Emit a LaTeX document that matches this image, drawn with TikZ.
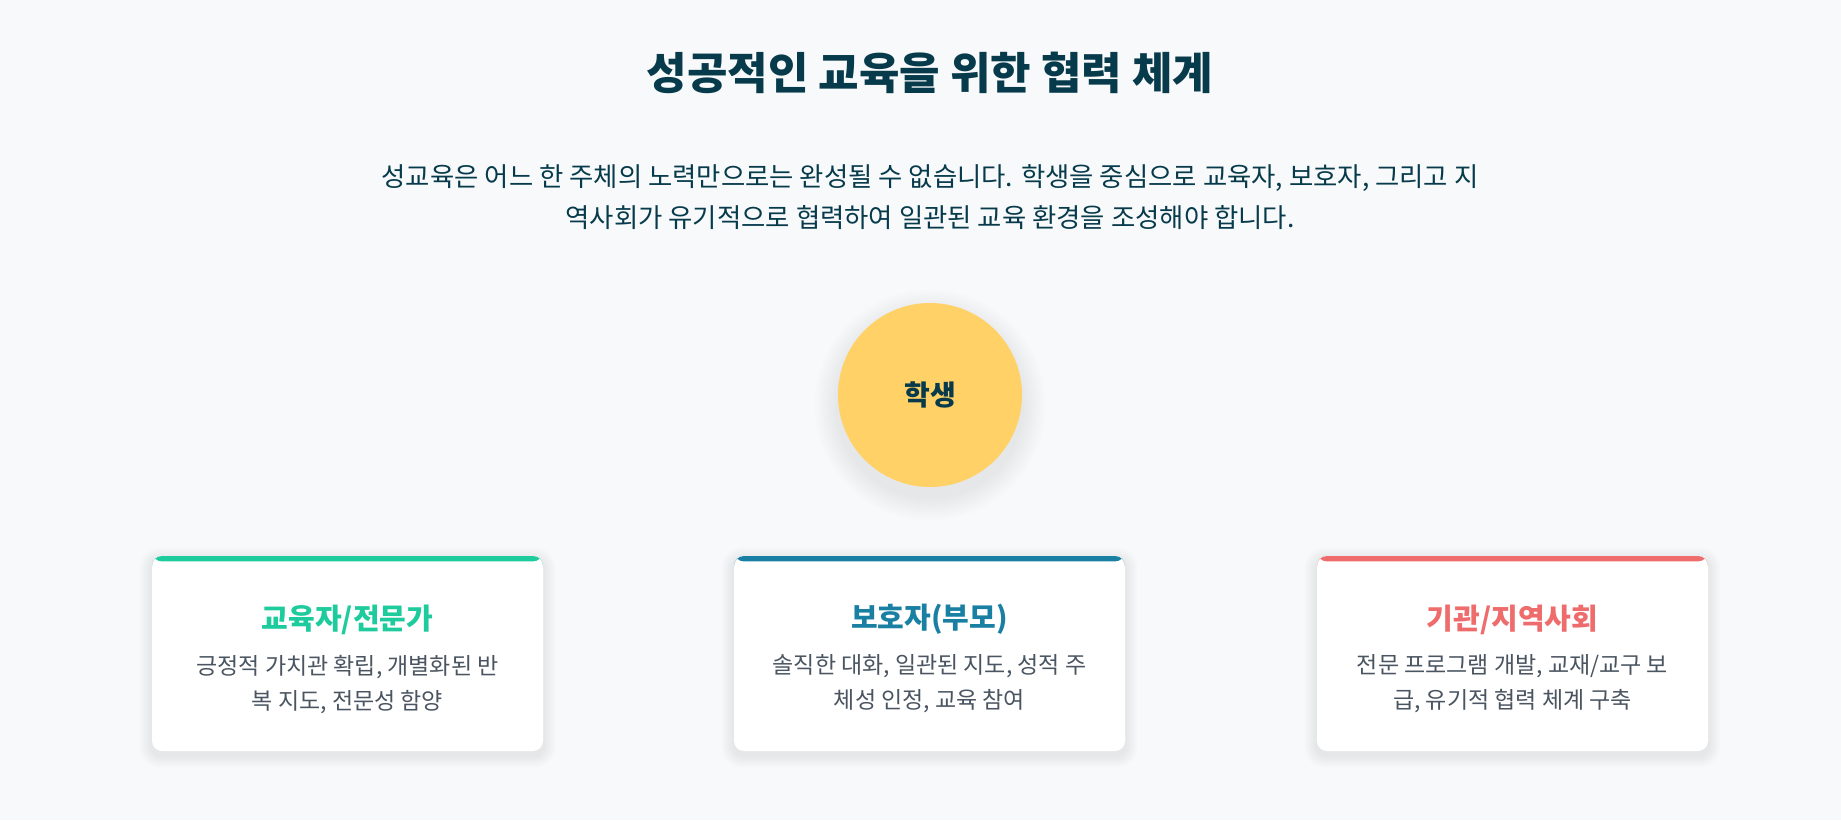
\documentclass[tikz,border=0pt]{standalone}
\usepackage{fontspec}
\setmainfont{Noto Sans CJK KR}
\usetikzlibrary{positioning}
\pgfdeclarelayer{bg}
\pgfsetlayers{bg,main}
\definecolor{bgpage}{HTML}{F8F9FA}
\definecolor{inkdark}{HTML}{073B4C}
\definecolor{inkgray}{HTML}{4A5561}
\definecolor{stuyellow}{HTML}{FFD166}
\definecolor{teachgreen}{HTML}{1DCB9C}
\definecolor{parentblue}{HTML}{1A80A3}
\definecolor{commred}{HTML}{EE6C6C}
\tikzset{
card/.style={
    fill=white, rounded corners=5pt, inner sep=0pt,
    minimum width=195.5pt, minimum height=97.5pt,
    path picture={
        \fill[#1] (path picture bounding box.north west) rectangle ([yshift=-2.7pt]path picture bounding box.north east);
    }
},
cardtitle/.style={text=#1, font=\fontsize{14.5}{17}\selectfont\bfseries, inner sep=0pt},
carddesc/.style={text=inkgray, font=\fontsize{11.5}{17.5}\selectfont, align=center, inner sep=0pt},
softshade/.style={fill=black, opacity=#1},
}

\begin{document}
\begin{tikzpicture}[x=0.5pt,y=-0.5pt]
    \node[text=inkdark, font=\fontsize{22}{26}\selectfont\bfseries, inner sep=0pt] (title) at (930,73) {성공적인 교육을 위한 협력 체계};
    \node[text=inkdark, font=\fontsize{13.2}{20.5}\selectfont, align=center, inner sep=0pt] (intro) at (930,197)
        {성교육은 어느 한 주체의 노력만으로는 완성될 수 없습니다. 학생을 중심으로 교육자, 보호자, 그리고 지\\
         역사회가 유기적으로 협력하여 일관된 교육 환경을 조성해야 합니다.};
    \node[circle, fill=stuyellow, minimum size=92pt, inner sep=0pt,
        text=inkdark, font=\fontsize{14}{16}\selectfont\bfseries] (stu) at (930,395) {학생};

    \node[card=teachgreen] (teach) at (347.5,653.5) {};
    \node[cardtitle=teachgreen] (teachhead) at ([yshift=-32pt]teach.north) {교육자/전문가};
    \node[carddesc] (teachtext) at ([yshift=-64.25pt]teach.north) {긍정적 가치관 확립, 개별화된 반\\복 지도, 전문성 함양};

    \node[card=parentblue] (parent) at (929.5,653.5) {};
    \node[cardtitle=parentblue] (parenthead) at ([yshift=-32pt]parent.north) {보호자(부모)};
    \node[carddesc] (parenttext) at ([yshift=-64.25pt]parent.north) {솔직한 대화, 일관된 지도, 성적 주\\체성 인정, 교육 참여};

    \node[card=commred] (comm) at (1512.5,653.5) {};
    \node[cardtitle=commred] (commhead) at ([yshift=-32pt]comm.north) {기관/지역사회};
    \node[carddesc] (commtext) at ([yshift=-64.25pt]comm.north) {전문 프로그램 개발, 교재/교구 보\\급, 유기적 협력 체계 구축};

    \begin{pgfonlayer}{bg}
        \fill[bgpage] (0,0) rectangle (1841,820);
        \foreach \k [evaluate=\k as \r using 46+1.3*\k] in {1,...,9}
            \fill[softshade=0.009] ([yshift=-5pt]stu.center) circle[radius=\r pt];
        \foreach \n in {teach,parent,comm}
            \foreach \k [evaluate=\k as \d using 0.9*\k, evaluate=\k as \r using 5+0.9*\k] in {1,...,6}
                \fill[softshade=0.011, rounded corners=\r pt]
                    ([xshift=-\d pt, yshift=-2pt-\d pt]\n.south west) rectangle ([xshift=\d pt, yshift=\d pt-2pt]\n.north east);
    \end{pgfonlayer}
\end{tikzpicture}
\end{document}
